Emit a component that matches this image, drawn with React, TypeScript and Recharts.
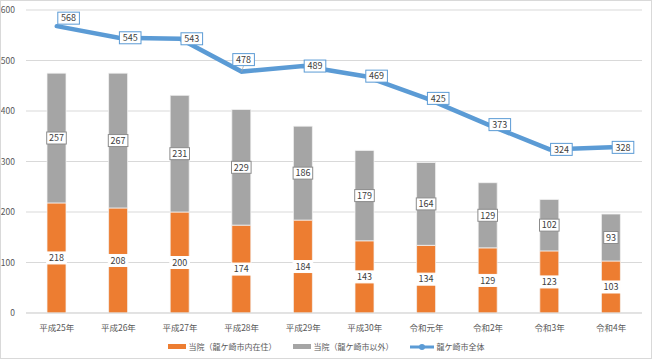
import {
  Bar,
  CartesianGrid,
  ComposedChart,
  LabelList,
  Line,
  XAxis,
  YAxis,
} from 'recharts';

const years = [
  '平成25年',
  '平成26年',
  '平成27年',
  '平成28年',
  '平成29年',
  '平成30年',
  '令和元年',
  '令和2年',
  '令和3年',
  '令和4年',
];
const cityResidents = [218, 208, 200, 174, 184, 143, 134, 129, 123, 103];
const otherResidents = [257, 267, 231, 229, 186, 179, 164, 129, 102, 93];
const cityTotal = [568, 545, 543, 478, 489, 469, 425, 373, 324, 328];
const yTicks = [0, 100, 200, 300, 400, 500, 600];

const data = years.map((year, i) => ({
  year,
  city: cityResidents[i],
  other: otherResidents[i],
  total: cityTotal[i],
}));

const FONT = '"Noto Sans CJK JP", "Noto Sans", sans-serif';
const ORANGE = '#ED7D31';
const GRAY = '#A5A5A5';
const BLUE = '#5B9BD5';
const TEXT = '#404040';

const boxWidth = (value: number) => String(value).length * 5.2 + 4;

const barLabel = (border: string) => (props: any) => {
  const { x, y, width, height, value } = props;
  const w = boxWidth(value);
  const cx = Number(x) + Number(width) / 2;
  const cy = Number(y) + Number(height) / 2;
  return (
    <g>
      <rect
        x={cx - w / 2}
        y={cy - 6}
        width={w}
        height={12}
        fill="#fff"
        stroke={border}
        strokeWidth={1}
      />
      <text
        x={cx}
        y={cy + 3.3}
        textAnchor="middle"
        fontSize={9}
        fill={TEXT}
        fontFamily={FONT}
      >
        {value}
      </text>
    </g>
  );
};

// most labels sit just right of the point, the first and fourth were moved above
const lineLabel = (props: any) => {
  const { x, y, value, index } = props;
  const w = boxWidth(value) + 2;
  let left = Number(x) + 1;
  let top = Number(y) - 6;
  if (index === 0) {
    top = Number(y) - 14;
  } else if (index === 3) {
    left = Number(x) - w / 2 + 2;
    top = Number(y) - 18;
  }
  return (
    <g>
      {index === 3 && (
        <line
          x1={Number(x)}
          y1={Number(y)}
          x2={Number(x) + 2}
          y2={top + 12}
          stroke="#a6a6a6"
          strokeWidth={0.75}
        />
      )}
      <rect
        x={left}
        y={top}
        width={w}
        height={12}
        fill="#fff"
        stroke={BLUE}
        strokeWidth={1}
      />
      <text
        x={left + w / 2}
        y={top + 9.3}
        textAnchor="middle"
        fontSize={9}
        fill={TEXT}
        fontFamily={FONT}
      >
        {value}
      </text>
    </g>
  );
};

const legendItems = [
  { label: '当院（龍ケ崎市内在住）', color: ORANGE, type: 'bar' },
  { label: '当院（龍ケ崎市以外）', color: GRAY, type: 'bar' },
  { label: '龍ケ崎市全体', color: BLUE, type: 'line' },
];

const ChartLegend = () => (
  <div
    style={{
      position: 'absolute',
      top: 340,
      left: 0,
      width: 650,
      display: 'flex',
      justifyContent: 'center',
      gap: 16,
      fontFamily: FONT,
      fontSize: 8,
      color: '#595959',
    }}
  >
    {legendItems.map((item) => (
      <div key={item.label} style={{ display: 'flex', alignItems: 'center', gap: 3 }}>
        {item.type === 'bar' ? (
          <svg width={18} height={5}>
            <rect width={18} height={5} fill={item.color} />
          </svg>
        ) : (
          <svg width={24} height={8}>
            <line x1={0} y1={4} x2={24} y2={4} stroke={item.color} strokeWidth={3} />
            <circle cx={12} cy={4} r={3} fill={item.color} />
          </svg>
        )}
        <span>{item.label}</span>
      </div>
    ))}
  </div>
);

export default function App() {
  return (
    <div
      style={{
        position: 'absolute',
        left: 0,
        top: 0,
        width: 652,
        height: 359,
        background: '#fff',
        border: '1px solid #d9d9d9',
        boxSizing: 'border-box',
      }}
    >
      <ComposedChart
        width={650}
        height={357}
        data={data}
        margin={{ top: 9, right: 9, left: 0, bottom: 25 }}
        barSize={19}
      >
        <CartesianGrid vertical={false} stroke="#d9d9d9" />
        <XAxis
          dataKey="year"
          height={20}
          tickLine={false}
          axisLine={{ stroke: '#d9d9d9' }}
          tick={{ fill: '#595959', fontSize: 8.5, fontFamily: FONT }}
          interval={0}
          tickMargin={6}
        />
        <YAxis
          width={25}
          domain={[0, 600]}
          ticks={yTicks}
          tickLine={false}
          axisLine={false}
          tick={{ fill: '#595959', fontSize: 8.5, fontFamily: FONT }}
          tickMargin={5}
        />
        <Bar
          dataKey="city"
          stackId="a"
          fill={ORANGE}
          stroke="#f4f4f4"
          strokeWidth={0.75}
          name="当院（龍ケ崎市内在住）"
          isAnimationActive={false}
        >
          <LabelList dataKey="city" content={barLabel('#ffffff')} />
        </Bar>
        <Bar
          dataKey="other"
          stackId="a"
          fill={GRAY}
          stroke="#f4f4f4"
          strokeWidth={0.75}
          name="当院（龍ケ崎市以外）"
          isAnimationActive={false}
        >
          <LabelList dataKey="other" content={barLabel('#8c8c8c')} />
        </Bar>
        <Line
          type="linear"
          dataKey="total"
          stroke={BLUE}
          strokeWidth={4.5}
          strokeLinecap="round"
          dot={false}
          activeDot={false}
          name="龍ケ崎市全体"
          isAnimationActive={false}
        >
          <LabelList dataKey="total" content={lineLabel} />
        </Line>
      </ComposedChart>
      <ChartLegend />
    </div>
  );
}
